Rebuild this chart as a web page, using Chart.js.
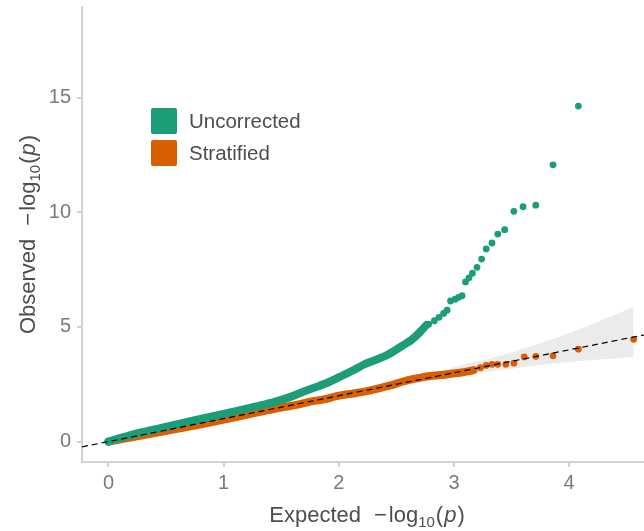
<!DOCTYPE html>
<html><head><meta charset="utf-8">
<script src="https://cdn.jsdelivr.net/npm/chart.js@4.4.1/dist/chart.umd.min.js"></script>
<style>html,body{margin:0;padding:0;background:#fff}canvas{display:block}</style>
</head><body>
<canvas id="c" width="644" height="531"></canvas>
<script>
// ---------- data ----------
const seriesNames = ['Uncorrected', 'Stratified'];
const xTickValues = [0, 1, 2, 3, 4];
const yTickValues = [0, 5, 10, 15];

// Uncorrected: dense body (overlapping points) and sparse tail
const uncorrDenseX = [0, 0.17, 0.46, 0.75, 1.04, 1.33, 1.45, 1.58, 1.69, 1.81, 1.92, 2.04, 2.13, 2.21, 2.27, 2.39, 2.47, 2.56, 2.63, 2.70, 2.76];
const uncorrDenseY = [0, 0.25, 0.60, 0.93, 1.25, 1.59, 1.74, 1.95, 2.17, 2.39, 2.61, 2.90, 3.12, 3.34, 3.47, 3.70, 3.92, 4.21, 4.43, 4.75, 5.08];
const uncorrTailX = [2.78, 2.83, 2.87, 2.91, 2.94, 2.97, 3.01, 3.04, 3.07, 3.10, 3.13, 3.16, 3.20, 3.24, 3.28, 3.33, 3.38, 3.44, 3.52, 3.60, 3.71, 3.86, 4.08];
const uncorrTailY = [5.12, 5.27, 5.42, 5.59, 5.73, 6.13, 6.21, 6.29, 6.36, 6.96, 7.14, 7.34, 7.60, 7.96, 8.40, 8.66, 9.05, 9.24, 10.04, 10.24, 10.31, 12.07, 14.63];

// Stratified: dense body and sparse tail
const stratDenseX = [0, 0.46, 0.91, 1.40, 1.52, 1.63, 1.75, 1.87, 1.98, 2.10, 2.21, 2.33, 2.44, 2.56, 2.64, 2.70, 2.79, 2.88, 2.96, 3.05, 3.12, 3.17];
const stratDenseY = [0, 0.43, 0.86, 1.38, 1.50, 1.60, 1.74, 1.84, 1.98, 2.08, 2.17, 2.30, 2.44, 2.62, 2.72, 2.78, 2.86, 2.90, 2.95, 3.00, 3.06, 3.12];
const stratTailX = [3.23, 3.28, 3.33, 3.38, 3.45, 3.52, 3.61, 3.71, 3.86, 4.08, 4.56];
const stratTailY = [3.22, 3.32, 3.37, 3.37, 3.37, 3.42, 3.69, 3.72, 3.74, 4.03, 4.46];

// 95% confidence band
const bandX     = [0, 1.00, 1.78, 2.26, 2.56, 2.78, 2.95, 3.07, 3.28, 3.38, 3.52, 3.60, 3.71, 3.86, 4.08, 4.56];
const bandUpper = [0, 1.02, 1.83, 2.35, 2.69, 2.95, 3.17, 3.34, 3.58, 3.72, 3.92, 4.05, 4.22, 4.47, 4.88, 5.86];
const bandLower = [0, 0.98, 1.73, 2.17, 2.45, 2.64, 2.79, 2.89, 3.03, 3.10, 3.19, 3.25, 3.32, 3.40, 3.51, 3.69];

// y = x reference line endpoints
const refLineX = [-0.23, 4.65];
const refLineY = [-0.23, 4.65];

// ---------- styling ----------
const COLORS = ['#1B9E77', '#D95F02'];
const FONT = "'Liberation Sans', Arial, Helvetica, sans-serif";
const AXIS_GREY = '#d2d2d2';

const zip = (xs, ys) => xs.map((x, i) => ({ x: x, y: ys[i] }));

const titlePlugin = {
  id: 'mathTitles',
  afterDraw(chart) {
    const ctx = chart.ctx;
    const area = chart.chartArea;
    const drawMath = (word, cx, cy, rotate) => {
      ctx.save();
      ctx.translate(cx, cy);
      if (rotate) ctx.rotate(-Math.PI / 2);
      ctx.fillStyle = '#4d4d4d';
      ctx.textBaseline = 'alphabetic';
      ctx.textAlign = 'left';
      const big = '22px ' + FONT, small = '15px ' + FONT, ital = 'italic 22px ' + FONT;
      const parts = [
        { t: word, f: big, dy: 0, gap: 13 },
        { t: '\u2212', f: big, dy: 0, gap: 2 },
        { t: 'log', f: big, dy: 0, gap: 0 },
        { t: '10', f: small, dy: 5, gap: 1 },
        { t: '(', f: big, dy: 0, gap: 1 },
        { t: 'p', f: ital, dy: 0, gap: 1 },
        { t: ')', f: big, dy: 0, gap: 0 }
      ];
      let total = 0;
      parts.forEach(p => { ctx.font = p.f; p.w = ctx.measureText(p.t).width; total += p.w + p.gap; });
      let x = -total / 2;
      parts.forEach(p => { ctx.font = p.f; ctx.fillText(p.t, x, 8 + p.dy); x += p.w + p.gap; });
      ctx.restore();
    };
    drawMath('Expected', (area.left + area.right) / 2 + 4, 514, false);
    drawMath('Observed', 27, (area.top + area.bottom) / 2, true);
  }
};

const legendPlugin = {
  id: 'insetLegend',
  afterDraw(chart) {
    const ctx = chart.ctx;
    ctx.save();
    seriesNames.forEach((name, i) => {
      const x = 151, y = 108 + i * 32, s = 26;
      ctx.fillStyle = COLORS[i];
      ctx.beginPath();
      ctx.roundRect(x, y, s, s, 2);
      ctx.fill();
      ctx.fillStyle = '#4d4d4d';
      ctx.font = '20.5px ' + FONT;
      ctx.textBaseline = 'middle';
      ctx.textAlign = 'left';
      ctx.fillText(name, 189, y + s / 2 + 1);
    });
    ctx.restore();
  }
};

const pointDs = (label, xs, ys, color, order) => ({
  type: 'scatter', label, data: zip(xs, ys), order,
  pointRadius: 3.4, pointBackgroundColor: color, pointBorderWidth: 0, showLine: false
});
const bodyDs = (label, xs, ys, color, order) => ({
  type: 'line', label, data: zip(xs, ys), order,
  borderColor: color, borderWidth: 8, borderCapStyle: 'round', borderJoinStyle: 'round',
  pointRadius: 0, fill: false, cubicInterpolationMode: 'monotone'
});

new Chart(document.getElementById('c'), {
  data: {
    datasets: [
      { type: 'line', label: 'band upper', data: zip(bandX, bandUpper), order: 10,
        borderWidth: 0, pointRadius: 0, fill: '+1', backgroundColor: '#ebebeb', borderColor: 'rgba(0,0,0,0)' },
      { type: 'line', label: 'band lower', data: zip(bandX, bandLower), order: 10,
        borderWidth: 0, pointRadius: 0, fill: false, borderColor: 'rgba(0,0,0,0)' },
      bodyDs(seriesNames[1], stratDenseX, stratDenseY, COLORS[1], 4),
      pointDs(seriesNames[1], stratTailX, stratTailY, COLORS[1], 4),
      bodyDs(seriesNames[0], uncorrDenseX, uncorrDenseY, COLORS[0], 3),
      pointDs(seriesNames[0], uncorrTailX, uncorrTailY, COLORS[0], 3),
      { type: 'line', label: 'y = x', data: zip(refLineX, refLineY), order: 0,
        borderColor: '#000', borderWidth: 1.2, borderDash: [6, 4], pointRadius: 0, fill: false }
    ]
  },
  options: {
    responsive: false,
    animation: false,
    events: [],
    layout: { autoPadding: false, padding: { top: 7, right: 0, bottom: 0, left: 0 } },
    plugins: { legend: { display: false }, tooltip: { enabled: false } },
    scales: {
      x: {
        type: 'linear', min: -0.23, max: 4.65,
        afterBuildTicks: s => { s.ticks = xTickValues.map(v => ({ value: v })); },
        afterFit: s => { s.height = 69; s.paddingLeft = 0; s.paddingRight = 0; },
        ticks: { font: { family: FONT, size: 20 }, color: '#7a7a7a', padding: 4, includeBounds: false },
        grid: { drawOnChartArea: false, drawTicks: true, tickLength: 5, color: AXIS_GREY, lineWidth: 2 },
        border: { display: true, color: AXIS_GREY, width: 2 }
      },
      y: {
        type: 'linear', min: -0.89, max: 18.95,
        afterBuildTicks: s => { s.ticks = yTickValues.map(v => ({ value: v })); },
        afterFit: s => { s.width = 82; s.paddingTop = 0; s.paddingBottom = 0; },
        ticks: { font: { family: FONT, size: 20 }, color: '#7a7a7a', padding: 6, includeBounds: false },
        grid: { drawOnChartArea: false, drawTicks: true, tickLength: 5, color: AXIS_GREY, lineWidth: 2 },
        border: { display: true, color: AXIS_GREY, width: 2 }
      }
    }
  },
  plugins: [titlePlugin, legendPlugin]
});
</script>
</body></html>
